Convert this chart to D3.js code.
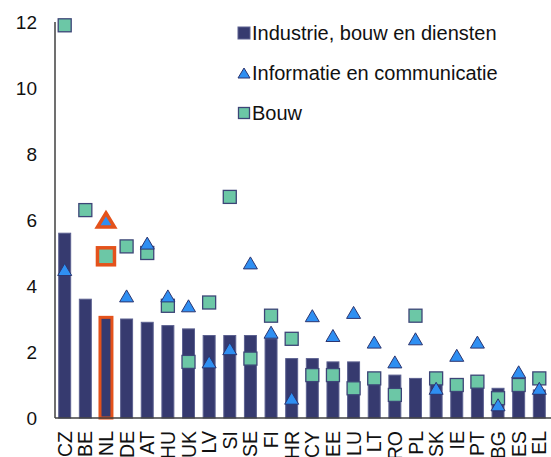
<!DOCTYPE html>
<html>
<head>
<meta charset="utf-8">
<script src="https://cdn.jsdelivr.net/npm/d3@7"></script>
<style>
  body { margin: 0; background: #fff; }
  svg { display: block; font-family: "Liberation Sans", Arial, sans-serif; }
</style>
</head>
<body>
<div id="chart"></div>
<script>
// landen, gesorteerd op de balk
var countries = ["CZ","BE","NL","DE","AT","HU","UK","LV","SI","SE","FI","HR","CY","EE","LU","LT","RO","PL","SK","IE","PT","BG","ES","EL"];
var industrie = [5.6,3.6,3.05,3.0,2.9,2.8,2.7,2.5,2.5,2.5,2.4,1.8,1.8,1.7,1.7,1.35,1.3,1.2,1.15,1.0,0.95,0.9,0.9,0.85];
var ict = [4.5,null,6.0,3.7,5.3,3.7,3.4,1.7,2.1,4.7,2.6,0.6,3.1,2.5,3.2,2.3,1.7,2.4,0.9,1.9,2.3,0.4,1.4,0.9];
var bouw = [11.9,6.3,4.9,5.2,5.0,3.4,1.7,3.5,6.7,1.8,3.1,2.4,1.3,1.3,0.9,1.2,0.7,3.1,1.2,1.0,1.1,0.6,1.0,1.2];
var yTicks = [0,2,4,6,8,10,12];
var seriesNames = ["Industrie, bouw en diensten","Informatie en communicatie","Bouw"];
var highlight = "NL";

var width = 551, height = 457;
var navy = "#363a6f", blue = "#2f8ff2", green = "#6cc7a6", orange = "#e4521b";

var svg = d3.select("#chart").append("svg")
    .attr("width", width)
    .attr("height", height);

var x = d3.scaleBand().domain(countries).range([55, 549]).paddingInner(0.42).paddingOuter(0.18);
var y = d3.scaleLinear().domain([0, 12]).range([418, 22]);

function tri(w, h) {
  return "M0," + (-h / 2) + "L" + (w / 2) + "," + (h / 2) + "L" + (-w / 2) + "," + (h / 2) + "Z";
}

// balken
svg.selectAll("rect.bar")
    .data(countries)
  .enter().append("rect")
    .attr("class", "bar")
    .attr("x", function(d) { return x(d); })
    .attr("width", x.bandwidth())
    .attr("y", function(d, i) { return y(industrie[i]); })
    .attr("height", function(d, i) { return y(0) - y(industrie[i]); })
    .style("fill", navy)
    .style("stroke", function(d) { return d == highlight ? orange : "#5c6190"; })
    .style("stroke-width", function(d) { return d == highlight ? 3 : 1; });

// assen
svg.append("line")
    .attr("x1", 55).attr("x2", 55)
    .attr("y1", y(12)).attr("y2", y(0))
    .style("stroke", "#404040").style("stroke-width", 1.5);
svg.append("line")
    .attr("x1", 55).attr("x2", width)
    .attr("y1", y(0)).attr("y2", y(0))
    .style("stroke", "#404040").style("stroke-width", 1.5);

svg.selectAll("text.ytick")
    .data(yTicks)
  .enter().append("text")
    .attr("class", "ytick")
    .attr("x", 37)
    .attr("y", function(d) { return y(d); })
    .attr("dy", "0.36em")
    .attr("text-anchor", "end")
    .style("font-size", "19px")
    .style("fill", "#111")
    .text(function(d) { return d; });

svg.selectAll("text.xtick")
    .data(countries)
  .enter().append("text")
    .attr("class", "xtick")
    .attr("transform", function(d) { return "translate(" + (x(d) + x.bandwidth() / 2) + "," + y(0) + ") rotate(-90)"; })
    .attr("x", -13)
    .attr("dy", "0.36em")
    .attr("text-anchor", "end")
    .style("font-size", "19.5px")
    .style("fill", "#111")
    .text(function(d) { return d; });

// bouw: vierkantjes
svg.selectAll("rect.bouw")
    .data(countries)
  .enter().append("rect")
    .attr("class", "bouw")
    .each(function(d, i) {
      var s = d == highlight ? 17 : 13;
      d3.select(this)
        .attr("x", x(d) + x.bandwidth() / 2 - s / 2)
        .attr("y", y(bouw[i]) - s / 2)
        .attr("width", s).attr("height", s);
    })
    .style("fill", green)
    .style("stroke", function(d) { return d == highlight ? orange : "#3d4577"; })
    .style("stroke-width", function(d) { return d == highlight ? 3.5 : 1.3; });

// ict: driehoekjes
svg.selectAll("path.ict")
    .data(countries.filter(function(d, i) { return ict[i] != null; }))
  .enter().append("path")
    .attr("class", "ict")
    .attr("d", function(d) { return d == highlight ? tri(17, 14) : tri(14, 12); })
    .attr("transform", function(d) {
      return "translate(" + (x(d) + x.bandwidth() / 2) + "," + y(ict[countries.indexOf(d)]) + ")";
    })
    .style("fill", blue)
    .style("stroke", function(d) { return d == highlight ? orange : "#2c3570"; })
    .style("stroke-width", function(d) { return d == highlight ? 3.5 : 1; });

// legenda
var legend = svg.append("g").attr("transform", "translate(244,0)");
var rows = [33, 73, 113];

legend.append("rect")
    .attr("x", -6).attr("y", rows[0] - 6).attr("width", 12).attr("height", 12)
    .style("fill", navy).style("stroke", "#5c6190");
legend.append("path")
    .attr("d", tri(12, 10))
    .attr("transform", "translate(0," + rows[1] + ")")
    .style("fill", blue).style("stroke", "#2c3570");
legend.append("rect")
    .attr("x", -5.5).attr("y", rows[2] - 5.5).attr("width", 11).attr("height", 11)
    .style("fill", green).style("stroke", "#3d4577").style("stroke-width", 1.3);

legend.selectAll("text")
    .data(seriesNames)
  .enter().append("text")
    .attr("x", 8)
    .attr("y", function(d, i) { return rows[i]; })
    .attr("dy", "0.36em")
    .style("font-size", "20px")
    .style("fill", "#111")
    .text(function(d) { return d; });
</script>
</body>
</html>
